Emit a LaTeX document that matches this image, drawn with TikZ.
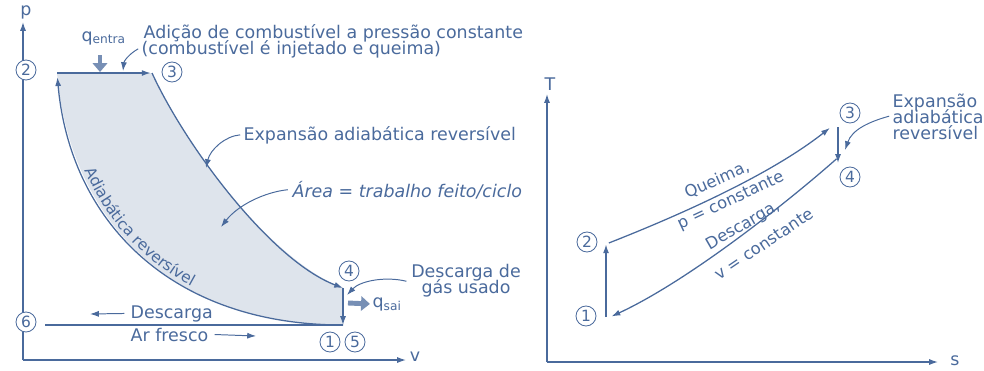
\documentclass[tikz,border=0pt]{standalone}
\usepackage{fontspec}
\setmainfont{DejaVu Sans}
\usetikzlibrary{arrows.meta}
\usetikzlibrary{decorations.text}
\definecolor{azul}{RGB}{74,106,156}
\definecolor{areaciclo}{RGB}{222,228,236}
\tikzset{
	estado/.style={circle, draw=azul, fill=white, line width=0.6pt, minimum size=5mm, inner sep=0pt,
		font=\fontsize{11}{12}\selectfont},
	seta/.style={-{Latex[length=2.2mm,width=1.5mm]}},
	setacalor/.style={line width=3.5pt, azul!75, -{Triangle[length=2.2mm,width=3.6mm]}},
	rotulo/.style={inner sep=0pt},
	rotuloinclinado/.style={inner sep=0pt, font=\fontsize{11.6}{12}\selectfont}
}
\newcommand{\ponteiro}[4]{   % de, controle 1, controle 2, para
	\draw[seta, line width=0.7pt] (#1) .. controls (#2) and (#3) .. (#4);
}

\begin{document}
\begin{tikzpicture}[x=0.025cm, y=-0.025cm, color=azul, line width=0.9pt,
	font=\fontsize{12.4}{13}\selectfont]
\useasboundingbox (0,0) rectangle (984,370);

% diagrama p-v
\coordinate (v1) at (343,325);
\coordinate (v2) at (57,73);
\coordinate (v3) at (152,73);
\coordinate (v4) at (343,288);
\coordinate (v6) at (45,325);

\fill[areaciclo] (v2) -- (v3) .. controls (185,145) and (270,260) .. (v4) -- (v1)
	.. controls (170,325) and (70,220) .. (v2) -- cycle;

\coordinate (origpv) at (23,360);
\coordinate (topop) at (23,22);
\coordinate (fimv) at (406,360);
\draw[seta] (origpv) -- (topop);
\draw[seta] (origpv) -- (fimv);
\node (rotp) at (26,12) {p};
\node (rotv) at (415,357) {v};

\draw[seta, shorten >=1pt] (v2) -- (v3);
\draw[seta] (v3) .. controls (185,145) and (270,260) .. (v4);
\draw[seta] (v4) -- (v1);
\draw[seta, shorten >=3pt] (v1) .. controls (170,325) and (70,220) .. (v2);
\draw (v6) -- (v1);

\path[decorate, decoration={text along path,
	text={|\fontsize{11}{12}\selectfont|Adiabática reversível},
	text color=azul, raise=2.5pt, text align={left indent=2.55cm}}]
	(v2) .. controls (70,220) and (170,325) .. (v1);

\foreach \nome/\pos/\num in {c1/{330,342}/1, c2/{26,70}/2, c3/{172,72}/3,
	c4/{349,271}/4, c5/{355,342}/5, c6/{26,322}/6}
	\node[estado] (\nome) at (\pos) {\num};

% calor
\node[rotulo, anchor=base west] (qentra) at (81,41) {q\textsubscript{entra}};
\coordinate (qentrafim) at (100,72);
\coordinate (qentraini) at (100,55);
\draw[setacalor] (qentraini) -- (qentrafim);
\coordinate (qsaiini) at (348,303);
\node[rotulo, anchor=base west] (qsai) at (372,307) {q\textsubscript{sai}};
\draw[setacalor] (qsaiini) -- ([xshift=-1.5pt]qsai.west);

% textos
\node[rotulo, anchor=base west] (adicao1) at (143,38) {Adição de combustível a pressão constante};
\node[rotulo, anchor=base west] (adicao2) at (141,54) {(combustível é injetado e queima)};
\coordinate (padicao) at (123,71);
\ponteiro{[xshift=-2pt]adicao2.west}{129,54}{124,61}{padicao}

\node[rotulo, anchor=base west] (expansao) at (243,140) {Expansão adiabática reversível};
\coordinate (pexpansao) at (206,168);
\ponteiro{[xshift=-2pt]expansao.west}{225,136}{210,150}{pexpansao}

\node[rotulo, anchor=base west] (area) at (292,197) {\itshape Área = trabalho feito/ciclo};
\coordinate (parea) at (221,227);
\ponteiro{[xshift=-3pt]area.west}{265,192}{238,205}{parea}

\node[rotulo, anchor=base] (descarga1) at (466,277) {Descarga de};
\node[rotulo, anchor=base] (descarga2) at (466,293) {gás usado};
\coordinate (pdescarga) at (347,295);
\ponteiro{[xshift=-3pt]descarga1.south west}{385,276}{360,281}{pdescarga}

\node[rotulo, anchor=base west] (descarga) at (130,318) {Descarga};
\coordinate (fimdescarga) at (90,314);
\draw[seta, line width=0.7pt] ([xshift=-4pt]descarga.west) -- (fimdescarga);
\node[rotulo, anchor=base west] (arfresco) at (130,341) {Ar fresco};
\coordinate (fimar) at (256,336);
\draw[seta, line width=0.7pt] ([xshift=4pt]arfresco.east) -- (fimar);

% diagrama T-s
\coordinate (t1) at (606,317);
\coordinate (t2) at (606,243);
\coordinate (t3) at (838,127);
\coordinate (t4) at (838,163);

\coordinate (origts) at (547,362);
\coordinate (topoT) at (547,94);
\coordinate (fims) at (938,362);
\draw[seta] (origts) -- (topoT);
\draw[seta] (origts) -- (fims);
\node (rotT) at (550,84) {T};
\node (rots) at (955,361) {s};

\draw[seta, shorten >=1pt] (t1) -- (t2);
\draw[seta, shorten >=1pt] ([xshift=2pt]t2) .. controls (680,215) and (770,175) .. ([xshift=-5pt]t3);
\draw[seta] (t3) -- (t4);
\draw[seta, shorten >=1pt] ([shift={(-1pt,3pt)}]t4) .. controls (790,200) and (690,280) .. ([xshift=3pt]t1);

\foreach \nome/\pos/\num in {d1/{586,316}/1, d2/{587,242}/2, d3/{850,113}/3, d4/{850,177}/4}
	\node[estado] (\nome) at (\pos) {\num};

\node[rotuloinclinado, rotate=24] (queima) at (717,180) {Queima,};
\node[rotuloinclinado, rotate=25] (pconst) at (731,201) {p = constante};
\node[rotuloinclinado, rotate=30] (descargaT) at (743,226) {Descarga,};
\node[rotuloinclinado, rotate=34] (vconst) at (764,244) {v = constante};

\node[rotulo, anchor=base west] (expansaoT1) at (892,107) {Expansão};
\node[rotulo, anchor=base west] (expansaoT2) at (892,123) {adiabática};
\node[rotulo, anchor=base west] (expansaoT3) at (892,139) {reversível};
\coordinate (pexpansaoT) at (845,150);
\ponteiro{[xshift=-2pt]expansaoT2.west}{868,122}{852,130}{pexpansaoT}
\end{tikzpicture}
\end{document}
